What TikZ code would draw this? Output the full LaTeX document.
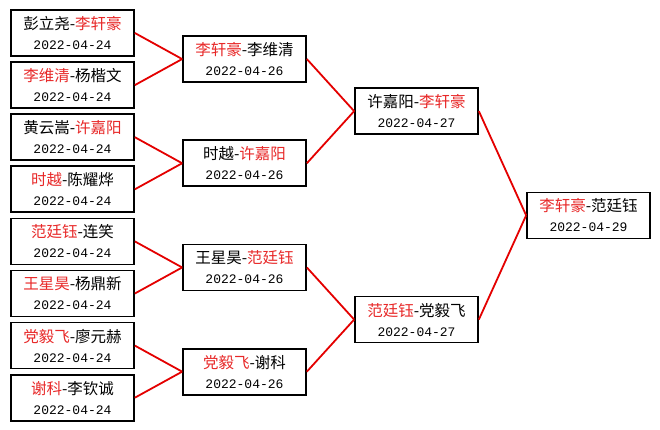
\documentclass[tikz,border=0pt]{standalone}
\usepackage{fontspec}
\setmonofont{Liberation Mono}
\newfontfamily\cjk{Noto Sans CJK SC}
\usepackage{xcolor}
\definecolor{winred}{RGB}{232,40,40}
\definecolor{linered}{RGB}{228,0,0}
\usetikzlibrary{positioning,calc}
\newcommand{\win}[1]{\textcolor{winred}{#1}}
\newcommand{\mdate}[1]{{\ttfamily\fontsize{13}{20}\selectfont #1}}

\begin{document}
\begin{tikzpicture}[x=1pt,y=-1pt,
  node distance=4.4pt,
  match/.style={draw=black,fill=white,line width=1.7pt,minimum width=123pt,
    minimum height=46pt,inner sep=0pt,align=center,
    font=\cjk\fontsize{15.5}{20}\selectfont},
  link/.style={linered,line width=1.8pt}]
  \useasboundingbox[fill=white] (0,0) rectangle (660,429);
  % first round
  \node[match](l1) at (72.5,33){彭立尧-\win{李轩豪}\\\mdate{2022-04-24}};
  \node[match,below=of l1](l2){\win{李维清}-杨楷文\\\mdate{2022-04-24}};
  \node[match,below=of l2](l3){黄云嵩-\win{许嘉阳}\\\mdate{2022-04-24}};
  \node[match,below=of l3](l4){\win{时越}-陈耀烨\\\mdate{2022-04-24}};
  \node[match,below=of l4](l5){\win{范廷钰}-连笑\\\mdate{2022-04-24}};
  \node[match,below=of l5](l6){\win{王星昊}-杨鼎新\\\mdate{2022-04-24}};
  \node[match,below=of l6](l7){\win{党毅飞}-廖元赫\\\mdate{2022-04-24}};
  \node[match,below=of l7](l8){\win{谢科}-李钦诚\\\mdate{2022-04-24}};
  % second round
  \node[match](r1) at ($(l1)!0.5!(l2)+(172,0)$){\win{李轩豪}-李维清\\\mdate{2022-04-26}};
  \node[match](r2) at ($(l3)!0.5!(l4)+(172,0)$){时越-\win{许嘉阳}\\\mdate{2022-04-26}};
  \node[match](r3) at ($(l5)!0.5!(l6)+(172,0)$){王星昊-\win{范廷钰}\\\mdate{2022-04-26}};
  \node[match](r4) at ($(l7)!0.5!(l8)+(172,0)$){\win{党毅飞}-谢科\\\mdate{2022-04-26}};
  % semifinal and final
  \node[match](s1) at ($(r1)!0.5!(r2)+(172,0)$){许嘉阳-\win{李轩豪}\\\mdate{2022-04-27}};
  \node[match](s2) at ($(r3)!0.5!(r4)+(172,0)$){\win{范廷钰}-党毅飞\\\mdate{2022-04-27}};
  \node[match](fin) at ($(s1)!0.5!(s2)+(172,0)$){\win{李轩豪}-范廷钰\\\mdate{2022-04-29}};
  \draw[link](l1.east)--(r1.west); \draw[link](l2.east)--(r1.west);
  \draw[link](l3.east)--(r2.west); \draw[link](l4.east)--(r2.west);
  \draw[link](l5.east)--(r3.west); \draw[link](l6.east)--(r3.west);
  \draw[link](l7.east)--(r4.west); \draw[link](l8.east)--(r4.west);
  \draw[link](r1.east)--(s1.west); \draw[link](r2.east)--(s1.west);
  \draw[link](r3.east)--(s2.west); \draw[link](r4.east)--(s2.west);
  \draw[link](s1.east)--(fin.west); \draw[link](s2.east)--(fin.west);
\end{tikzpicture}
\end{document}
